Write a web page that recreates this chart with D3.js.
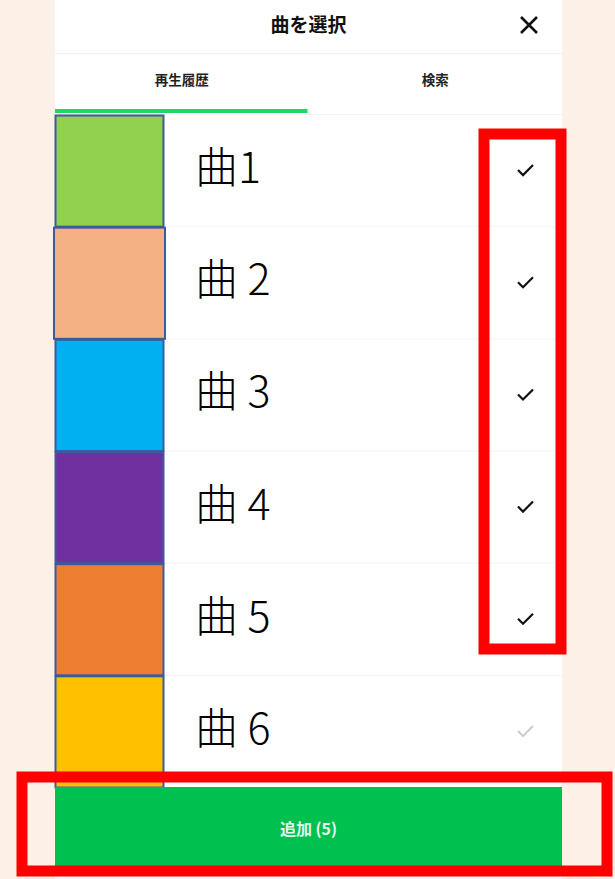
<!DOCTYPE html>
<html lang="ja">
<head>
<meta charset="UTF-8">
<title>曲を選択</title>
<script src="https://d3js.org/d3.v7.min.js"></script>
<style>
  body { margin: 0; background: #fcf0e7; }
  svg { display: block; }
  text { font-family: "Noto Sans CJK JP", "Noto Sans", sans-serif; }
</style>
</head>
<body>
<div id="chart"></div>
<script>
// song list data
const songs = ["曲1", "曲 2", "曲 3", "曲 4", "曲 5", "曲 6"];
const swatchColors = ["#92d050", "#f4b183", "#00b0f0", "#7030a0", "#ed7d31", "#ffc000"];
const checked = [true, true, true, true, true, false];
const tabs = ["再生履歴", "検索"];
const title = "曲を選択";
const buttonLabel = "追加 (" + checked.filter(d => d).length + ")";

const W = 615, H = 879;
const panelL = 55, panelR = 562;

const svg = d3.select("#chart").append("svg")
  .attr("width", W)
  .attr("height", H);

// white panel
svg.append("rect")
  .attr("x", panelL).attr("y", 0)
  .attr("width", panelR - panelL).attr("height", H)
  .attr("fill", "#fff");

// header
svg.append("text")
  .attr("x", (panelL + panelR) / 2).attr("y", 32)
  .attr("text-anchor", "middle")
  .attr("font-size", 19).attr("font-weight", 700)
  .attr("fill", "#111")
  .text(title);

svg.append("path")
  .attr("d", "M521,17L537,33M537,17L521,33")
  .attr("stroke", "#111").attr("stroke-width", 2.6)
  .attr("fill", "none");

svg.append("line")
  .attr("x1", panelL).attr("x2", panelR)
  .attr("y1", 53.5).attr("y2", 53.5)
  .attr("stroke", "#f0f0f0");

// tabs
const tabX = d3.scaleBand().domain(tabs).range([panelL, panelR]);
svg.selectAll(".tab").data(tabs).enter().append("text")
  .attr("class", "tab")
  .attr("x", d => tabX(d) + tabX.bandwidth() / 2)
  .attr("y", 85)
  .attr("text-anchor", "middle")
  .attr("font-size", 13.5).attr("font-weight", 700)
  .attr("fill", "#222")
  .text(d => d);

svg.append("rect")
  .attr("x", tabX(tabs[0])).attr("y", 109)
  .attr("width", tabX.bandwidth() - 1).attr("height", 4)
  .attr("fill", "#25d366");

svg.append("line")
  .attr("x1", panelL).attr("x2", panelR)
  .attr("y1", 114.5).attr("y2", 114.5)
  .attr("stroke", "#f2f2f2");

// rows
const y = d3.scaleBand().domain(songs).range([115, 788]);

const rows = svg.selectAll(".row").data(songs).enter().append("g")
  .attr("class", "row")
  .attr("transform", d => `translate(0,${y(d)})`);

rows.append("line")
  .attr("x1", 165).attr("x2", panelR)
  .attr("y1", y.bandwidth() - 0.5).attr("y2", y.bandwidth() - 0.5)
  .attr("stroke", "#f3f3f3");

rows.append("rect")
  .attr("x", (d, i) => i === 1 ? 54 : 55.5)
  .attr("y", 0.5)
  .attr("width", (d, i) => i === 1 ? 111 : 108)
  .attr("height", y.bandwidth() - 1)
  .attr("fill", (d, i) => swatchColors[i])
  .attr("stroke", "#3a5b9c")
  .attr("stroke-width", 2);

rows.append("text")
  .attr("x", 195)
  .attr("y", y.bandwidth() / 2 + 12)
  .attr("font-size", 43)
  .attr("font-weight", 300)
  .attr("fill", "#000")
  .text(d => d);

rows.append("path")
  .attr("d", d => {
    const cy = y.bandwidth() / 2 - 1;
    return `M518,${cy}L523,${cy + 5}L533,${cy - 5}`;
  })
  .attr("stroke", (d, i) => checked[i] ? "#111" : "#cfcfcf")
  .attr("stroke-width", 2.2)
  .attr("fill", "none");

// add button
svg.append("rect")
  .attr("x", panelL).attr("y", 787)
  .attr("width", panelR - panelL).attr("height", 80)
  .attr("fill", "#00c150");

svg.append("text")
  .attr("x", (panelL + panelR) / 2).attr("y", 835)
  .attr("text-anchor", "middle")
  .attr("font-size", 16).attr("font-weight", 700)
  .attr("fill", "#e6f7ec")
  .text(buttonLabel);

// red highlight boxes
svg.append("rect")
  .attr("x", 484).attr("y", 134)
  .attr("width", 77).attr("height", 515)
  .attr("fill", "none")
  .attr("stroke", "#ff0000").attr("stroke-width", 11);

svg.append("rect")
  .attr("x", 22).attr("y", 777)
  .attr("width", 585).attr("height", 94)
  .attr("fill", "none")
  .attr("stroke", "#ff0000").attr("stroke-width", 11);
</script>
</body>
</html>
